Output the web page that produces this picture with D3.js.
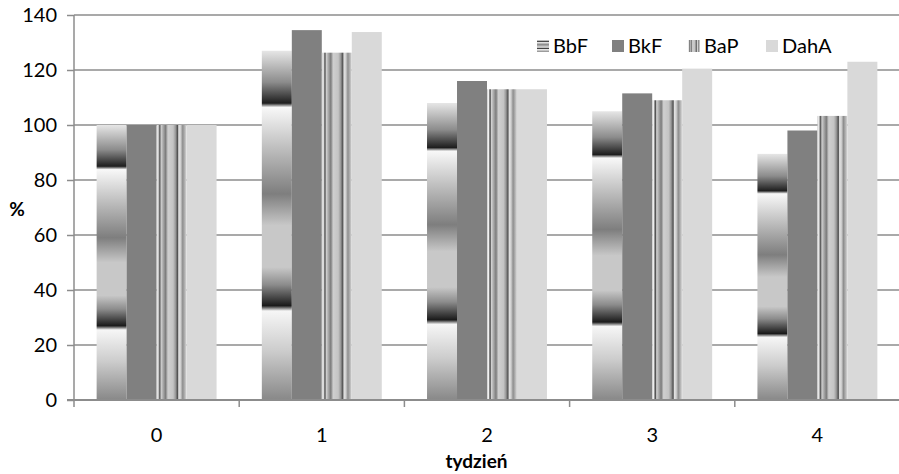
<!DOCTYPE html>
<html>
<head>
<meta charset="utf-8">
<script src="https://cdn.jsdelivr.net/npm/d3@7"></script>
<style>
  body { margin: 0; background: #fff; }
  text { font-family: Lato, "Open Sans", sans-serif; fill: #000; }
</style>
</head>
<body>
<svg width="899" height="474"></svg>
<script>
var weeks = ["0", "1", "2", "3", "4"];
var series = ["BbF", "BkF", "BaP", "DahA"];
var bbf  = [100, 127, 108, 105, 89.5];
var bkf  = [100, 134.5, 116, 111.5, 98];
var bap  = [100, 126.3, 113, 109, 103.3];
var daha = [100, 133.8, 113, 120.5, 123];
var yTicks = [0, 20, 40, 60, 80, 100, 120, 140];

var values = { BbF: bbf, BkF: bkf, BaP: bap, DahA: daha };

var svg = d3.select("svg"),
    margin = { left: 74, right: -1, top: 15, bottom: 74 },
    width = +svg.attr("width"),
    height = +svg.attr("height");

var x0 = d3.scaleBand().domain(weeks).range([margin.left, width - margin.right]);
var groupW = x0.bandwidth() * 0.726;
var x1 = d3.scaleBand().domain(series).range([0, groupW]);
var y = d3.scaleLinear().domain([0, 140]).range([height - margin.bottom, margin.top]);

var defs = svg.append("defs");

// BbF: vertical gradient stretched over each bar
var gBbf = defs.append("linearGradient").attr("id", "gbbf")
    .attr("x1", 0).attr("y1", 0).attr("x2", 0).attr("y2", 1);
[[0, "#e6e6e6"], [0.09, "#8c8c8c"], [0.15, "#1e1e1e"], [0.162, "#f8f8f8"],
 [0.3, "#b4b4b4"], [0.41, "#7e7e7e"], [0.5, "#c8c8c8"], [0.62, "#c8c8c8"],
 [0.67, "#8c8c8c"], [0.73, "#1a1a1a"], [0.745, "#f6f6f6"], [0.86, "#cccccc"],
 [1, "#888888"]].forEach(function (s) {
  gBbf.append("stop").attr("offset", s[0]).attr("stop-color", s[1]);
});

// BaP: horizontal stripes across the bar
var gBap = defs.append("linearGradient").attr("id", "gbap")
    .attr("x1", 0).attr("y1", 0).attr("x2", 1).attr("y2", 0);
[[0, "#c8c8c8"], [0.05, "#f2f2f2"], [0.08, "#8a8a8a"], [0.11, "#555555"],
 [0.15, "#d0d0d0"], [0.22, "#a8a8a8"], [0.3, "#7c7c7c"], [0.38, "#cfcfcf"],
 [0.55, "#c4c4c4"], [0.63, "#9a9a9a"], [0.7, "#505050"], [0.74, "#e2e2e2"],
 [0.8, "#d0d0d0"], [0.87, "#8e8e8e"], [0.94, "#b4b4b4"], [1, "#dcdcdc"]].forEach(function (s) {
  gBap.append("stop").attr("offset", s[0]).attr("stop-color", s[1]);
});

var fills = { BbF: "url(#gbbf)", BkF: "#808080", BaP: "url(#gbap)", DahA: "#d9d9d9" };

// gridlines
svg.append("g").selectAll("line")
  .data(yTicks.slice(1))
  .enter().append("line")
  .attr("x1", margin.left).attr("x2", width)
  .attr("y1", function (d) { return y(d); })
  .attr("y2", function (d) { return y(d); })
  .attr("stroke", "#8c8c8c").attr("stroke-width", 1.5);

// bars
var groups = svg.append("g").selectAll("g")
  .data(weeks)
  .enter().append("g")
  .attr("transform", function (d) {
    return "translate(" + (x0(d) + (x0.bandwidth() - groupW) / 2) + ",0)";
  });

groups.selectAll("rect")
  .data(function (w, i) { return series.map(function (s) { return { key: s, value: values[s][i] }; }); })
  .enter().append("rect")
  .attr("x", function (d) { return x1(d.key); })
  .attr("width", x1.bandwidth())
  .attr("y", function (d) { return y(d.value); })
  .attr("height", function (d) { return y(0) - y(d.value); })
  .attr("fill", function (d) { return fills[d.key]; });

// y axis
var yAxis = svg.append("g")
  .attr("transform", "translate(" + margin.left + ",0)")
  .call(d3.axisLeft(y).tickValues(yTicks).tickSize(7).tickPadding(10));
yAxis.select(".domain").attr("stroke", "#8c8c8c").attr("stroke-width", 1.5)
  .attr("d", "M0," + y(140) + "V" + y(0));
yAxis.selectAll(".tick line").attr("stroke", "#8c8c8c").attr("stroke-width", 1.5);
yAxis.selectAll("text").style("font-size", "20px").style("font-family", "Lato, sans-serif");

// x axis
var xAxis = svg.append("g")
  .attr("transform", "translate(0," + y(0) + ")")
  .call(d3.axisBottom(x0).tickSize(0).tickPadding(28));
xAxis.select(".domain").attr("stroke", "#8c8c8c").attr("stroke-width", 2)
  .attr("d", "M" + (margin.left - 7) + ",0H" + width);
xAxis.selectAll("text").style("font-size", "20px").style("font-family", "Lato, sans-serif");
xAxis.selectAll(".sep")
  .data(weeks)
  .enter().append("line")
  .attr("x1", function (d) { return x0(d); })
  .attr("x2", function (d) { return x0(d); })
  .attr("y1", 0).attr("y2", 7)
  .attr("stroke", "#8c8c8c").attr("stroke-width", 1.5);

// axis titles
svg.append("text")
  .attr("x", 17).attr("y", 216)
  .attr("text-anchor", "middle")
  .style("font-size", "19px").style("font-weight", "bold")
  .text("%");

svg.append("text")
  .attr("x", (margin.left + width) / 2 - 10).attr("y", 468)
  .attr("text-anchor", "middle")
  .style("font-size", "19px").style("font-weight", "bold")
  .text("tydzień");

// legend
var legendX = [537, 612, 688, 766];
var legend = svg.append("g").selectAll("g")
  .data(series)
  .enter().append("g")
  .attr("transform", function (d, i) { return "translate(" + legendX[i] + ",40)"; });
legend.append("rect")
  .attr("width", 12).attr("height", 12)
  .attr("fill", function (d) { return fills[d]; });
legend.append("text")
  .attr("x", 16).attr("y", 13)
  .style("font-size", "20px")
  .text(function (d) { return d; });
</script>
</body>
</html>
